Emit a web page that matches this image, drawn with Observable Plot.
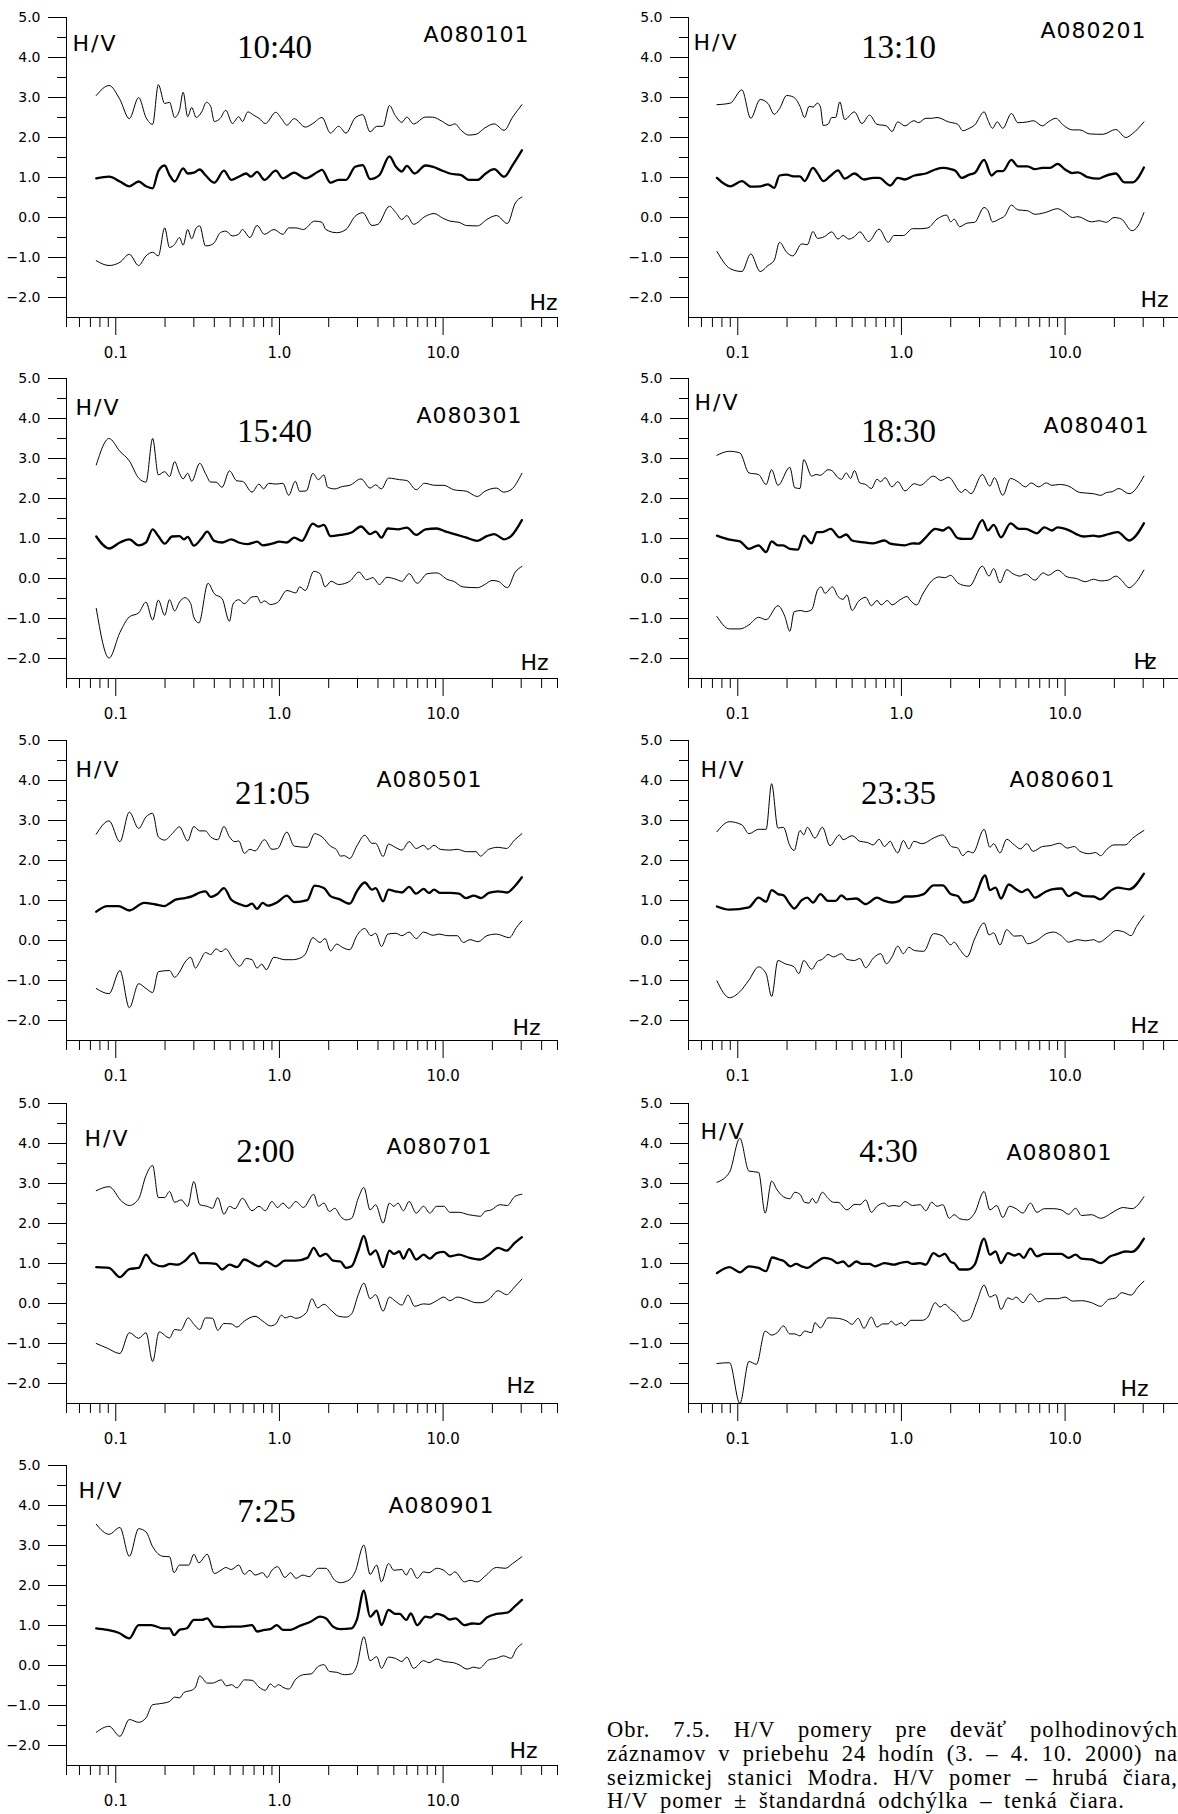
<!DOCTYPE html>
<html><head><meta charset="utf-8">
<script src="https://cdn.jsdelivr.net/npm/d3@7"></script>
<script src="https://cdn.jsdelivr.net/npm/@observablehq/plot@0.6"></script>
<style>
html,body{margin:0;padding:0;background:#fff;overflow:hidden;}
#page{position:relative;width:1178px;height:1814px;overflow:hidden;background:#fff;}
.panel{position:absolute;width:580px;height:365px;}
.panel svg{overflow:visible;max-width:none !important;width:580px !important;height:365px !important;}
#caption{position:absolute;left:607px;top:1718px;width:571px;font-family:"Liberation Serif","Times New Roman",serif;font-size:22.5px;line-height:23.8px;letter-spacing:1px;word-spacing:5px;color:#000;}
#caption div{text-align:justify;text-align-last:justify;white-space:nowrap;height:23.8px;}
#caption div.last{text-align-last:left;}
</style></head>
<body><div id="page"><div id="caption"></div></div>
<script>
// ---------- tick values ----------
const yMajor = [-2, -1, 0, 1, 2, 3, 4, 5];
const yMinor = [-1.5, -0.5, 0.5, 1.5, 2.5, 3.5, 4.5];
const xMajor = [0.1, 1, 10];
const xMinor = [0.05,0.06,0.07,0.08,0.09,0.2,0.3,0.4,0.5,0.6,0.7,0.8,0.9,2,3,4,5,6,7,8,9,20,30,40,50];

// ---------- labels ----------
const ids = ["A080101","A080201","A080301","A080401","A080501","A080601","A080701","A080801","A080901"];
const times = ["10:40","13:10","15:40","18:30","21:05","23:35","2:00","4:30","7:25"];

// ---------- data: [frequency Hz, H/V] ----------
const A080101_up = [[.076,3.05],[.091,3.3],[.106,2.95],[.121,2.47],[.138,3.0],[.153,2.5],[.168,2.33],[.182,3.32],[.199,2.85],[.213,2.88],[.229,2.5],[.245,2.68],[.258,3.13],[.275,2.52],[.291,2.75],[.31,2.5],[.335,2.64],[.358,2.88],[.38,2.78],[.40,2.4],[.435,2.48],[.47,2.68],[.516,2.35],[.564,2.52],[.594,2.4],[.642,2.64],[.695,2.56],[.75,2.48],[.82,2.35],[.95,2.63],[1.03,2.47],[1.11,2.31],[1.23,2.47],[1.44,2.26],[1.6,2.35],[1.82,2.5],[2.05,2.11],[2.3,2.28],[2.55,2.11],[2.9,2.49],[3.23,2.57],[3.58,2.14],[3.93,2.28],[4.3,2.28],[4.7,2.8],[5.1,2.55],[5.6,2.38],[6.0,2.51],[6.6,2.34],[7.8,2.51],[8.6,2.51],[9.9,2.4],[11.0,2.3],[11.8,2.34],[12.9,2.18],[14.3,2.06],[15.9,2.08],[18.0,2.24],[20.5,2.34],[23.6,2.18],[26.6,2.51],[30.3,2.82]];
const A080101_mid = [[.076,.98],[.091,1.02],[.106,.9],[.121,.78],[.138,.9],[.153,.78],[.168,.73],[.182,1.16],[.199,1.3],[.213,1.06],[.229,.9],[.258,1.23],[.275,1.1],[.30,1.12],[.326,1.2],[.353,1.06],[.40,.87],[.458,1.17],[.508,.94],[.564,1.02],[.626,1.1],[.67,1.02],[.73,1.14],[.81,.94],[.95,1.17],[1.05,.98],[1.23,1.12],[1.44,.98],[1.73,1.15],[1.82,1.19],[2.05,.87],[2.3,.94],[2.55,.94],[2.9,1.27],[3.23,1.31],[3.58,.96],[4.08,1.06],[4.7,1.53],[5.15,1.27],[5.6,1.15],[6.0,1.29],[6.7,1.1],[7.8,1.3],[8.6,1.27],[9.9,1.17],[11.0,1.1],[12.9,1.06],[14.3,.94],[16.2,.94],[18.2,1.1],[20.5,1.21],[23.6,1.02],[26.6,1.31],[30.3,1.68]];
const A080101_low = [[.076,-1.08],[.091,-1.2],[.106,-1.12],[.121,-.92],[.138,-1.2],[.153,-.96],[.168,-.87],[.182,-.96],[.199,-.26],[.213,-.75],[.229,-.67],[.245,-.5],[.258,-.69],[.275,-.3],[.291,-.53],[.31,-.26],[.326,-.21],[.353,-.71],[.38,-.69],[.40,-.63],[.435,-.38],[.47,-.34],[.516,-.46],[.564,-.42],[.594,-.3],[.66,-.5],[.73,-.2],[.81,-.42],[.925,-.3],[1.05,-.42],[1.14,-.26],[1.26,-.26],[1.4,-.3],[1.64,-.09],[1.82,-.12],[1.92,-.3],[2.24,-.38],[2.55,-.3],[2.9,.03],[3.23,.12],[3.68,-.2],[4.0,-.17],[4.7,.28],[5.15,.12],[5.6,-.05],[6.0,.05],[6.6,-.17],[7.8,.03],[8.8,.1],[9.9,-.01],[11.0,-.09],[12.5,-.12],[13.9,-.2],[16.2,-.21],[18.5,-.05],[21.2,.05],[24.7,-.15],[27.6,.36],[30.3,.51]];

const A080201_up = [[.0746,2.82],[.09,2.86],[.106,3.19],[.12,2.48],[.137,2.95],[.153,2.85],[.167,2.58],[.18,2.72],[.199,3.05],[.219,3.01],[.24,2.78],[.256,2.5],[.273,2.78],[.288,2.76],[.307,2.86],[.32,2.76],[.333,2.3],[.356,2.33],[.375,2.5],[.396,2.5],[.42,2.89],[.45,2.45],[.516,2.64],[.574,2.35],[.638,2.56],[.709,2.33],[.81,2.29],[.876,2.15],[.95,2.39],[1.05,2.29],[1.19,2.42],[1.27,2.37],[1.41,2.48],[1.53,2.48],[1.65,2.5],[1.94,2.39],[2.21,2.33],[2.37,2.17],[2.6,2.23],[2.8,2.31],[3.2,2.64],[3.38,2.43],[3.6,2.23],[3.85,2.39],[4.16,2.23],[4.7,2.6],[5.15,2.37],[5.89,2.39],[6.4,2.42],[7.27,2.29],[7.9,2.39],[8.77,2.48],[9.74,2.31],[11.1,2.19],[12.3,2.19],[14.1,2.09],[17.0,2.08],[20.4,2.2],[23.5,2.0],[25.9,2.1],[30.3,2.39]];
const A080201_mid = [[.0746,.99],[.09,.78],[.106,.91],[.12,.77],[.137,.78],[.153,.83],[.167,.74],[.18,1.05],[.199,1.07],[.219,1.03],[.24,1.03],[.256,.91],[.288,1.24],[.307,1.11],[.333,.91],[.366,1.03],[.41,1.18],[.45,.97],[.516,1.1],[.59,.95],[.673,.99],[.73,.99],[.855,.8],[.95,.99],[1.05,.95],[1.2,1.05],[1.41,1.1],[1.61,1.2],[1.79,1.24],[2.0,1.21],[2.15,1.16],[2.33,.99],[2.6,1.07],[2.8,1.11],[3.2,1.44],[3.55,1.05],[3.85,1.16],[4.16,1.16],[4.7,1.44],[5.15,1.28],[5.89,1.28],[6.54,1.21],[7.27,1.24],[8.09,1.24],[9.0,1.34],[10.0,1.2],[11.1,1.11],[12.0,1.13],[13.7,1.01],[16.1,.97],[17.4,1.03],[20.4,1.1],[23.0,.88],[25.9,.88],[30.3,1.25]];
const A080201_low = [[.0746,-.85],[.09,-1.28],[.106,-1.35],[.12,-.91],[.137,-1.35],[.153,-1.2],[.167,-1.07],[.18,-.62],[.199,-.87],[.217,-.96],[.246,-.66],[.266,-.68],[.288,-.35],[.307,-.52],[.338,-.48],[.375,-.36],[.41,-.54],[.44,-.45],[.477,-.54],[.516,-.48],[.557,-.36],[.63,-.6],[.73,-.29],[.831,-.62],[.9,-.45],[1.027,-.45],[1.17,-.28],[1.3,-.28],[1.45,-.26],[1.65,-.04],[1.89,.06],[2.0,-.11],[2.1,-.04],[2.27,-.23],[2.52,-.14],[2.8,-.12],[3.2,.25],[3.38,.17],[3.6,-.11],[3.96,-.04],[4.28,.04],[4.7,.31],[5.15,.19],[5.89,.17],[6.54,.08],[7.5,.12],[9.0,.22],[10.0,.12],[11.1,0],[12.0,.02],[14.5,-.11],[16.1,-.08],[17.9,-.12],[19.9,0],[22.1,-.04],[25.6,-.33],[27.9,-.21],[30.3,.12]];

const A080301_up = [[.076,2.84],[.091,3.5],[.106,3.18],[.121,2.94],[.138,2.51],[.153,2.41],[.168,3.5],[.182,2.59],[.199,2.67],[.213,2.55],[.229,2.92],[.245,2.63],[.258,2.49],[.275,2.63],[.291,2.43],[.326,2.88],[.353,2.63],[.38,2.41],[.41,2.41],[.446,2.28],[.495,2.69],[.55,2.44],[.594,2.43],[.68,2.16],[.75,2.36],[.80,2.24],[.86,2.38],[.95,2.36],[1.05,2.38],[1.14,2.08],[1.25,2.43],[1.33,2.18],[1.46,2.19],[1.6,2.63],[1.73,2.47],[1.87,2.59],[1.97,2.28],[2.18,2.24],[2.42,2.3],[2.69,2.33],[3.15,2.49],[3.58,2.26],[3.87,2.34],[4.2,2.24],[4.64,2.51],[5.43,2.47],[6.0,2.45],[6.85,2.22],[7.7,2.38],[8.9,2.33],[10.1,2.33],[11.6,2.22],[13.9,2.18],[16.2,2.05],[18.0,2.18],[21.2,2.26],[23.4,2.16],[26.0,2.22],[30.3,2.63]];
const A080301_mid = [[.076,1.05],[.091,.75],[.106,.9],[.121,.98],[.138,.83],[.153,.9],[.168,1.23],[.182,1.06],[.199,.87],[.221,1.05],[.245,1.06],[.261,.98],[.275,1.04],[.30,.82],[.335,1.01],[.362,1.17],[.40,.94],[.446,.9],[.508,.98],[.564,.9],[.64,.86],[.73,.92],[.79,.83],[.90,.87],[1.0,.92],[1.11,.9],[1.23,1.02],[1.37,.94],[1.6,1.37],[1.73,1.3],[1.87,1.34],[2.05,1.06],[2.36,1.09],[2.76,1.15],[3.15,1.3],[3.58,1.11],[3.87,1.17],[4.2,1.02],[4.6,1.25],[5.3,1.23],[6.0,1.27],[6.85,1.09],[7.8,1.23],[9.13,1.25],[10.4,1.17],[12.2,1.09],[13.9,1.02],[16.2,.94],[18.5,1.06],[20.5,1.11],[23.6,.98],[26.0,1.06],[30.3,1.46]];
const A080301_low = [[.076,-.75],[.091,-1.99],[.106,-1.35],[.121,-.96],[.138,-.86],[.153,-.59],[.168,-1.04],[.182,-.54],[.199,-.92],[.213,-.53],[.229,-.81],[.245,-.59],[.265,-.48],[.287,-.63],[.30,-.97],[.322,-1.11],[.366,-.12],[.40,-.38],[.446,-.5],[.495,-1.07],[.52,-.64],[.564,-.53],[.61,-.63],[.68,-.46],[.73,-.45],[.77,-.61],[.81,-.56],[.88,-.65],[.974,-.6],[1.11,-.3],[1.26,-.36],[1.33,-.21],[1.44,-.3],[1.62,.18],[1.77,.12],[1.9,-.21],[2.07,-.07],[2.3,-.15],[2.69,-.07],[3.06,.16],[3.4,-.03],[3.73,.02],[4.08,-.15],[4.53,.03],[5.15,-.02],[5.6,-.07],[6.2,.12],[6.95,-.12],[8.0,.12],[9.13,.14],[10.7,-.03],[11.6,-.07],[13.2,-.21],[16.2,-.23],[18.0,-.15],[19.9,-.05],[21.7,-.07],[24.7,-.23],[27.6,.16],[30.3,.3]];

const A080401_up = [[.0746,3.08],[.089,3.18],[.103,3.14],[.117,2.64],[.134,2.6],[.149,2.35],[.161,2.72],[.176,2.33],[.208,2.78],[.223,2.27],[.24,2.25],[.253,2.97],[.283,2.56],[.301,2.6],[.32,2.58],[.356,2.72],[.375,2.7],[.41,2.52],[.43,2.48],[.46,2.64],[.489,2.5],[.516,2.7],[.557,2.39],[.605,2.35],[.655,2.25],[.709,2.48],[.747,2.42],[.795,2.52],[.876,2.29],[.95,2.42],[1.05,2.19],[1.2,2.37],[1.3,2.33],[1.57,2.56],[1.74,2.45],[1.94,2.53],[2.33,2.15],[2.45,2.23],[2.66,2.12],[3.12,2.6],[3.47,2.31],[3.7,2.52],[4.16,2.08],[4.64,2.5],[5.15,2.42],[5.72,2.29],[6.21,2.39],[6.9,2.29],[7.67,2.39],[8.3,2.33],[9.25,2.35],[10.5,2.31],[12.3,2.15],[14.9,2.12],[16.5,2.08],[17.9,2.15],[19.4,2.17],[21.3,2.25],[24.6,2.12],[30.3,2.56]];
const A080401_mid = [[.0746,1.07],[.089,.97],[.103,.93],[.117,.74],[.134,.83],[.149,.66],[.161,.93],[.176,.83],[.189,.83],[.208,.74],[.233,.72],[.253,1.07],[.283,.88],[.304,1.16],[.329,1.16],[.37,1.24],[.418,1.03],[.46,1.1],[.5,.95],[.574,.91],[.673,.88],[.788,.95],[.855,.87],[.924,.85],[1.05,.83],[1.17,.88],[1.27,.87],[1.41,1.03],[1.61,1.24],[1.79,1.2],[1.94,1.28],[2.21,1.01],[2.39,.99],[2.66,.99],[3.12,1.46],[3.38,1.2],[3.66,1.34],[4.06,1.03],[4.64,1.38],[5.23,1.24],[5.72,1.24],[6.72,1.13],[7.47,1.28],[8.3,1.2],[9.0,1.28],[10.5,1.21],[11.7,1.11],[13.0,1.05],[14.9,1.07],[16.1,1.05],[18.4,1.11],[21.0,1.16],[24.6,.95],[30.3,1.38]];
const A080401_low = [[.0746,-.95],[.089,-1.26],[.103,-1.26],[.117,-1.16],[.134,-.97],[.149,-1.03],[.176,-.68],[.194,-.95],[.208,-1.32],[.221,-.83],[.243,-.8],[.259,-.83],[.283,-.78],[.307,-.29],[.323,-.21],[.341,-.37],[.379,-.21],[.41,-.45],[.44,-.52],[.464,-.41],[.5,-.8],[.544,-.58],[.605,-.47],[.655,-.68],[.709,-.55],[.752,-.66],[.82,-.55],[.876,-.66],[.974,-.54],[1.083,-.45],[1.13,-.54],[1.24,-.66],[1.34,-.41],[1.53,-.06],[1.7,.04],[1.84,.02],[2.0,.08],[2.21,-.11],[2.39,-.17],[2.6,-.19],[3.12,.31],[3.43,.06],[3.66,.25],[4.0,-.11],[4.4,.22],[4.8,.12],[5.29,.06],[5.72,.11],[6.54,-.04],[7.35,.14],[7.9,.08],[9.0,.21],[10.3,.04],[11.7,0],[13.3,-.08],[14.9,-.02],[16.5,-.06],[18.4,-.04],[20.4,.06],[22.1,-.04],[24.6,-.23],[27.3,-.08],[30.3,.21]];

const A080501_up = [[.076,2.66],[.091,2.99],[.106,2.47],[.121,3.21],[.138,2.8],[.153,3.09],[.168,3.18],[.182,2.59],[.199,2.51],[.221,2.67],[.245,2.84],[.275,2.49],[.30,2.85],[.326,2.74],[.353,2.74],[.38,2.59],[.42,2.52],[.458,2.85],[.495,2.59],[.535,2.47],[.564,2.49],[.61,2.18],[.66,2.28],[.71,2.24],[.81,2.52],[.90,2.28],[.974,2.3],[1.11,2.71],[1.23,2.36],[1.48,2.33],[1.64,2.67],[1.82,2.59],[2.05,2.36],[2.24,2.26],[2.36,2.11],[2.49,2.12],[2.69,2.05],[2.97,2.36],[3.32,2.63],[3.68,2.43],[3.87,2.43],[4.3,2.1],[4.64,2.41],[5.1,2.33],[5.6,2.26],[6.2,2.47],[6.85,2.3],[7.6,2.38],[8.1,2.28],[8.8,2.38],[9.6,2.28],[11.0,2.26],[12.2,2.28],[13.9,2.22],[15.9,2.22],[16.9,2.11],[19.0,2.28],[21.7,2.33],[24.4,2.3],[27.3,2.51],[30.3,2.67]];
const A080501_mid = [[.076,.72],[.089,.86],[.104,.86],[.121,.75],[.149,.94],[.175,.9],[.199,.86],[.215,.94],[.232,1.02],[.265,1.06],[.294,1.11],[.326,1.2],[.353,1.23],[.38,1.09],[.42,1.17],[.458,1.31],[.508,1.02],[.58,.9],[.626,.86],[.68,.92],[.73,.79],[.79,.94],[.85,.87],[.974,.96],[1.11,1.12],[1.23,.96],[1.48,1.01],[1.64,1.37],[1.87,1.31],[2.05,1.11],[2.3,1.04],[2.69,.92],[2.97,1.23],[3.32,1.45],[3.68,1.27],[3.87,1.31],[4.3,.98],[4.64,1.27],[5.1,1.23],[5.6,1.2],[6.2,1.34],[6.85,1.17],[7.6,1.29],[8.2,1.19],[8.8,1.27],[9.6,1.19],[11.0,1.19],[12.5,1.17],[13.8,1.06],[15.4,1.12],[17.1,1.06],[19.0,1.19],[21.7,1.23],[24.7,1.2],[27.3,1.35],[30.3,1.58]];
const A080501_low = [[.076,-1.2],[.091,-1.33],[.106,-.75],[.121,-1.68],[.138,-1.08],[.153,-1.2],[.168,-1.3],[.182,-.78],[.213,-.75],[.229,-.92],[.245,-.79],[.265,-.54],[.287,-.42],[.307,-.69],[.326,-.53],[.353,-.3],[.38,-.35],[.41,-.21],[.44,-.28],[.47,-.21],[.52,-.46],[.572,-.64],[.626,-.45],[.68,-.48],[.73,-.69],[.78,-.59],[.83,-.73],[.925,-.42],[1.08,-.48],[1.2,-.48],[1.37,-.42],[1.44,-.34],[1.6,.07],[1.77,-.05],[1.9,.05],[2.05,-.26],[2.24,-.09],[2.42,-.17],[2.69,-.23],[2.97,.12],[3.32,.3],[3.62,.12],[3.87,.18],[4.2,-.15],[4.6,.16],[5.15,.18],[5.6,.12],[6.2,.21],[6.85,.05],[7.6,.21],[8.7,.13],[9.4,.16],[10.7,.12],[12.2,.12],[13.3,-.05],[14.6,.02],[16.4,-.03],[18.5,.12],[21.2,.16],[25.4,.07],[28.0,.32],[30.3,.49]];

const A080601_up = [[.0746,2.72],[.089,2.97],[.106,2.89],[.117,2.67],[.134,2.78],[.149,2.78],[.161,3.92],[.176,2.81],[.19,2.83],[.208,2.37],[.221,2.25],[.24,2.75],[.253,2.64],[.266,2.83],[.296,2.56],[.329,2.83],[.366,2.37],[.418,2.64],[.44,2.52],[.5,2.62],[.557,2.48],[.62,2.45],[.673,2.39],[.73,2.53],[.788,2.35],[.855,2.48],[.9,2.31],[.95,2.19],[1.027,2.5],[1.11,2.29],[1.19,2.48],[1.34,2.42],[1.57,2.56],[1.79,2.64],[2.02,2.35],[2.21,2.31],[2.37,2.12],[2.55,2.23],[2.73,2.19],[3.2,2.78],[3.47,2.33],[3.66,2.42],[4.0,2.19],[4.4,2.53],[4.89,2.39],[5.34,2.29],[5.83,2.42],[6.37,2.23],[7.27,2.35],[8.09,2.37],[9.25,2.43],[10.3,2.31],[11.4,2.35],[12.3,2.23],[14.1,2.17],[15.3,2.2],[16.5,2.12],[17.9,2.27],[19.9,2.39],[23.3,2.39],[25.9,2.56],[30.3,2.75]];
const A080601_mid = [[.0746,.85],[.089,.77],[.117,.83],[.134,1.07],[.149,.97],[.161,1.26],[.176,1.16],[.19,1.13],[.208,.91],[.221,.8],[.246,1.01],[.266,1.07],[.288,.95],[.32,1.16],[.356,.99],[.396,.99],[.43,1.13],[.464,1.03],[.53,1.05],[.605,.91],[.709,1.07],[.788,.99],[.876,.95],[.974,.99],[1.05,1.1],[1.17,1.1],[1.37,1.16],[1.57,1.38],[1.79,1.38],[2.0,1.16],[2.21,1.11],[2.39,.95],[2.73,1.01],[3.25,1.63],[3.47,1.26],[3.76,1.32],[4.06,1.05],[4.52,1.4],[5.02,1.28],[5.44,1.21],[5.89,1.28],[6.54,1.07],[7.47,1.2],[8.3,1.28],[9.48,1.3],[10.5,1.11],[11.6,1.2],[13.0,1.11],[14.9,1.1],[16.5,1.03],[18.9,1.24],[21.0,1.32],[24.6,1.28],[30.3,1.67]];
const A080601_low = [[.0746,-1.01],[.089,-1.43],[.103,-1.28],[.117,-.99],[.134,-.66],[.149,-.83],[.161,-1.4],[.176,-.5],[.194,-.58],[.221,-.66],[.236,-.83],[.253,-.5],[.283,-.72],[.307,-.52],[.329,-.47],[.356,-.35],[.385,-.41],[.43,-.33],[.464,-.47],[.516,-.5],[.557,-.45],[.605,-.68],[.673,-.44],[.747,-.33],[.81,-.58],[.876,-.41],[.95,-.14],[1.027,-.33],[1.11,-.17],[1.2,-.25],[1.37,-.27],[1.57,.17],[1.79,.11],[2.0,-.11],[2.1,-.04],[2.27,-.22],[2.52,-.41],[2.8,.04],[3.2,.44],[3.43,.14],[3.66,.19],[4.0,-.11],[4.4,.27],[4.89,.11],[5.44,.12],[5.89,-.08],[6.72,0],[7.67,.17],[8.53,.21],[9.48,.12],[10.5,-.04],[12.0,.02],[13.3,-.01],[14.9,.02],[16.1,-.04],[18.4,.11],[20.4,.25],[23.0,.21],[25.3,.12],[27.3,.35],[30.3,.62]];

const A080701_up = [[.076,2.82],[.091,2.92],[.109,2.55],[.121,2.45],[.138,2.62],[.153,3.2],[.168,3.45],[.182,2.65],[.199,2.65],[.213,2.8],[.229,2.53],[.251,2.59],[.275,2.43],[.30,3.05],[.326,2.47],[.362,2.43],[.39,2.38],[.42,2.65],[.458,2.23],[.495,2.43],[.535,2.37],[.594,2.63],[.68,2.32],[.75,2.43],[.82,2.32],[.90,2.55],[.974,2.4],[1.05,2.51],[1.14,2.38],[1.26,2.55],[1.4,2.4],[1.62,2.73],[1.73,2.43],[1.87,2.51],[2.02,2.3],[2.18,2.38],[2.36,2.18],[2.55,2.09],[2.76,2.13],[3.03,2.63],[3.28,2.9],[3.58,2.34],[3.87,2.47],[4.3,2.01],[4.7,2.51],[5.0,2.43],[5.3,2.51],[5.72,2.32],[6.2,2.55],[6.85,2.26],[7.6,2.43],[8.3,2.26],[9.13,2.43],[10.1,2.43],[11.0,2.28],[12.5,2.28],[14.3,2.22],[15.4,2.2],[16.9,2.18],[18.0,2.3],[19.7,2.34],[22.2,2.47],[24.7,2.45],[27.3,2.67],[30.3,2.73]];
const A080701_mid = [[.076,.91],[.091,.89],[.106,.66],[.121,.86],[.138,.89],[.153,1.22],[.168,1.01],[.194,.93],[.215,.99],[.239,.97],[.265,1.07],[.30,1.26],[.326,1.01],[.362,1.01],[.41,.99],[.446,.85],[.495,.97],[.55,.91],[.61,1.1],[.68,1.01],[.75,.93],[.83,1.05],[.95,.93],[1.08,1.07],[1.26,1.07],[1.48,1.14],[1.62,1.39],[1.77,1.18],[1.92,1.24],[2.13,1.07],[2.36,1.05],[2.55,.89],[2.76,.93],[3.03,1.32],[3.28,1.69],[3.58,1.22],[3.87,1.33],[4.3,.91],[4.7,1.32],[5.0,1.24],[5.4,1.3],[5.72,1.12],[6.2,1.36],[6.85,1.1],[7.6,1.22],[8.3,1.12],[9.13,1.26],[10.1,1.29],[11.0,1.18],[12.5,1.22],[14.3,1.15],[16.9,1.1],[19.0,1.22],[21.7,1.39],[24.4,1.32],[27.3,1.51],[30.3,1.66]];
const A080701_low = [[.076,-1.0],[.089,-1.12],[.106,-1.25],[.121,-.73],[.138,-.87],[.153,-.73],[.168,-1.45],[.184,-.71],[.213,-.86],[.229,-.65],[.249,-.67],[.277,-.36],[.30,-.52],[.326,-.65],[.353,-.36],[.39,-.37],[.42,-.67],[.458,-.5],[.508,-.51],[.55,-.59],[.61,-.44],[.71,-.32],[.79,-.44],[.88,-.56],[.95,-.51],[1.03,-.29],[1.08,-.36],[1.17,-.32],[1.26,-.37],[1.46,-.23],[1.58,.12],[1.71,-.11],[1.87,-.02],[2.07,-.17],[2.3,-.32],[2.55,-.34],[2.76,-.26],[3.03,.22],[3.28,.51],[3.58,.12],[3.87,.22],[4.3,-.19],[4.7,.16],[5.1,.06],[5.6,-.04],[6.1,.21],[6.7,-.07],[7.6,-.01],[8.2,-.02],[9.13,.07],[10.1,.16],[11.0,.07],[12.2,.16],[13.9,.1],[15.9,.02],[17.1,.02],[19.0,.1],[21.7,.32],[24.4,.22],[27.3,.41],[30.3,.61]];

const A080801_up = [[.0746,3.03],[.089,3.28],[.103,4.13],[.117,3.31],[.134,3.28],[.147,2.26],[.161,3.06],[.174,2.84],[.19,2.67],[.208,2.62],[.223,2.78],[.24,2.73],[.256,2.53],[.273,2.51],[.285,2.63],[.301,2.51],[.329,2.78],[.356,2.63],[.385,2.53],[.41,2.53],[.464,2.34],[.52,2.48],[.557,2.47],[.605,2.59],[.655,2.28],[.709,2.43],[.788,2.51],[.831,2.43],[.9,2.45],[.974,2.43],[1.05,2.55],[1.17,2.45],[1.3,2.47],[1.41,2.32],[1.53,2.53],[1.65,2.43],[1.79,2.47],[1.96,2.13],[2.1,2.22],[2.27,2.12],[2.52,2.09],[2.8,2.26],[3.2,2.8],[3.47,2.34],[3.82,2.45],[4.16,2.15],[4.57,2.43],[5.02,2.37],[5.52,2.26],[6.14,2.51],[6.72,2.28],[7.47,2.37],[8.53,2.37],[9.48,2.34],[10.5,2.23],[11.6,2.38],[12.6,2.2],[14.5,2.22],[16.5,2.13],[18.7,2.23],[19.9,2.3],[22.7,2.4],[25.6,2.37],[30.3,2.67]];
const A080801_mid = [[.0746,.76],[.089,.91],[.103,.78],[.117,.93],[.134,.89],[.149,.81],[.162,1.15],[.179,1.1],[.19,1.07],[.21,.93],[.227,.99],[.246,.93],[.266,.89],[.296,1.01],[.338,1.14],[.375,1.1],[.407,1.01],[.44,1.05],[.477,.93],[.53,1.05],[.574,.99],[.638,.99],[.69,.93],[.788,1.01],[.9,.97],[.974,1.01],[1.083,1.04],[1.17,.99],[1.3,1.01],[1.41,.97],[1.57,1.26],[1.7,1.18],[1.84,1.24],[2.0,1.04],[2.1,1.01],[2.27,.85],[2.55,.85],[2.8,.97],[3.2,1.62],[3.47,1.22],[3.76,1.3],[4.06,1.01],[4.47,1.26],[4.89,1.2],[5.23,1.24],[5.58,1.14],[6.14,1.37],[6.72,1.18],[7.47,1.24],[8.53,1.24],[9.48,1.24],[10.5,1.14],[11.6,1.22],[12.6,1.12],[14.5,1.1],[16.5,1.01],[18.9,1.18],[21.0,1.24],[23.3,1.3],[25.6,1.29],[30.3,1.62]];
const A080801_low = [[.0746,-1.5],[.089,-1.48],[.103,-2.5],[.117,-1.45],[.13,-1.52],[.147,-.69],[.161,-.79],[.174,-.73],[.19,-.56],[.208,-.76],[.223,-.76],[.24,-.81],[.256,-.69],[.283,-.73],[.296,-.48],[.32,-.61],[.356,-.36],[.407,-.37],[.464,-.44],[.5,-.52],[.544,-.37],[.59,-.62],[.655,-.34],[.709,-.59],[.768,-.51],[.831,-.51],[.866,-.44],[.924,-.54],[1.0,-.48],[1.05,-.56],[1.14,-.42],[1.34,-.42],[1.45,-.34],[1.61,.02],[1.72,-.09],[1.84,-.02],[2.0,-.15],[2.13,-.23],[2.39,-.44],[2.6,-.4],[2.88,.02],[3.2,.46],[3.47,.16],[3.76,.22],[4.06,-.15],[4.47,.14],[4.76,.1],[5.02,.16],[5.52,.02],[6.14,.24],[6.9,.04],[7.67,.12],[9.0,.12],[10.0,.16],[11.1,.06],[12.6,.07],[14.5,.02],[16.5,-.07],[18.4,.1],[20.4,.14],[22.1,.27],[25.3,.21],[27.9,.41],[30.3,.56]];

const A080901_up = [[.076,3.53],[.091,3.28],[.106,3.45],[.121,2.73],[.138,3.42],[.153,3.34],[.168,2.97],[.194,2.73],[.213,2.72],[.227,2.32],[.245,2.51],[.279,2.51],[.30,2.78],[.322,2.57],[.362,2.78],[.40,2.3],[.446,2.4],[.47,2.45],[.508,2.4],[.564,2.51],[.61,2.28],[.66,2.38],[.71,2.26],[.79,2.32],[.84,2.2],[.90,2.38],[.974,2.47],[1.08,2.2],[1.17,2.32],[1.26,2.18],[1.39,2.26],[1.52,2.22],[1.73,2.43],[1.92,2.43],[2.18,2.13],[2.36,2.07],[2.69,2.15],[2.9,2.34],[3.28,3.01],[3.58,2.28],[3.93,2.51],[4.2,2.09],[4.64,2.55],[5.0,2.38],[5.6,2.4],[5.95,2.26],[6.35,2.43],[6.95,2.18],[7.6,2.34],[8.2,2.32],[9.13,2.43],[10.1,2.38],[11.0,2.26],[11.8,2.34],[13.5,2.09],[14.6,2.13],[16.2,2.09],[18.0,2.23],[21.2,2.45],[24.0,2.43],[26.6,2.55],[30.3,2.72]];
const A080901_mid = [[.076,.93],[.089,.89],[.104,.82],[.121,.68],[.138,1.01],[.165,1.01],[.194,.93],[.213,.93],[.227,.76],[.245,.89],[.272,.93],[.30,1.14],[.335,1.14],[.362,1.18],[.40,.97],[.446,.96],[.508,.97],[.58,.97],[.68,1.01],[.73,.85],[.81,.89],[.88,.91],[.965,1.01],[1.05,.89],[1.17,.89],[1.33,.99],[1.56,1.1],[1.77,1.22],[1.92,1.18],[2.13,.97],[2.36,.91],[2.76,.93],[2.97,1.14],[3.28,1.87],[3.58,1.22],[3.93,1.37],[4.2,1.01],[4.64,1.39],[5.1,1.29],[5.43,1.29],[5.95,1.14],[6.35,1.3],[6.95,1.01],[7.8,1.22],[8.4,1.2],[9.13,1.29],[10.1,1.24],[11.0,1.15],[11.9,1.18],[13.5,1.01],[15.0,1.05],[16.6,1.04],[18.5,1.2],[21.2,1.29],[24.7,1.32],[27.3,1.47],[30.3,1.64]];
const A080901_low = [[.076,-1.67],[.091,-1.52],[.106,-1.77],[.121,-1.35],[.138,-1.42],[.153,-1.31],[.168,-.98],[.182,-.96],[.213,-.9],[.229,-.79],[.245,-.81],[.262,-.67],[.294,-.61],[.307,-.54],[.326,-.26],[.362,-.44],[.39,-.44],[.44,-.36],[.475,-.51],[.508,-.48],[.55,-.56],[.61,-.36],[.68,-.37],[.75,-.54],[.82,-.62],[.88,-.46],[.935,-.54],[.985,-.48],[1.07,-.56],[1.14,-.59],[1.26,-.34],[1.4,-.23],[1.56,-.21],[1.73,-.02],[1.87,.02],[2.02,-.15],[2.24,-.17],[2.49,-.23],[2.76,-.21],[2.97,-.01],[3.28,.72],[3.58,.12],[3.93,.22],[4.2,-.07],[4.64,.21],[5.1,.18],[5.6,.1],[6.0,.21],[6.6,-.07],[7.6,.12],[8.2,.07],[9.13,.16],[10.1,.1],[11.6,.07],[12.5,.02],[14.0,-.09],[15.4,-.04],[16.6,-.07],[19.0,.14],[21.2,.18],[23.4,.24],[26.0,.18],[28.0,.41],[30.3,.54]];

const captionLines = [
  "Obr. 7.5. H/V pomery pre deväť polhodinových",
  "záznamov v priebehu 24 hodín (3. – 4. 10. 2000) na",
  "seizmickej stanici Modra. H/V pomer – hrubá čiara,",
  "H/V pomer ± štandardná odchýlka – tenká čiara."
];

// ---------- assemble ----------
const series = [
  [A080101_up, A080101_mid, A080101_low],
  [A080201_up, A080201_mid, A080201_low],
  [A080301_up, A080301_mid, A080301_low],
  [A080401_up, A080401_mid, A080401_low],
  [A080501_up, A080501_mid, A080501_low],
  [A080601_up, A080601_mid, A080601_low],
  [A080701_up, A080701_mid, A080701_low],
  [A080801_up, A080801_mid, A080801_low],
  [A080901_up, A080901_mid, A080901_low]
];

// layout (page placement and label offsets, px)
const layout = [
  {left:0,   top:0,    hv:[6,33],  time:[208,40], id:[357,24], hz:[0,292],   hzls:0},
  {left:622, top:0,    hv:[5,32],  time:[210,40], id:[352,20], hz:[-11,289], hzls:0},
  {left:0,   top:361,  hv:[9,36],  time:[208,63], id:[350,44], hz:[-9,291],  hzls:0},
  {left:622, top:361,  hv:[6,31],  time:[210,63], id:[355,54], hz:[-28,290], hzls:-5},
  {left:0,   top:723,  hv:[9,36],  time:[206,63], id:[310,46], hz:[-17,294], hzls:0},
  {left:622, top:723,  hv:[12,36], time:[210,63], id:[321,46], hz:[-21,292], hzls:0},
  {left:0,   top:1086, hv:[18,42], time:[199,58], id:[320,50], hz:[-23,289], hzls:0},
  {left:622, top:1086, hv:[12,35], time:[200,58], id:[318,56], hz:[-31,292], hzls:0},
  {left:0,   top:1448, hv:[12,32], time:[200,56], id:[322,47], hz:[-20,292], hzls:0}
];

const fmt = d3.format(".1f");
const sans = "DejaVu Sans, Verdana, sans-serif";
const page = document.getElementById("page");

series.forEach((s, i) => {
  const L = layout[i];
  const rows = s.map(arr => arr.map(([f, v]) => ({f, v})));
  const svg = Plot.plot({
    width: 580, height: 365,
    marginLeft: 66, marginRight: 23, marginTop: 17, marginBottom: 48,
    style: {fontFamily: sans, fontSize: "14px", color: "#000", background: "transparent", overflow: "visible"},
    x: {type: "log", domain: [0.05, 50], axis: null},
    y: {domain: [-2.5, 5], axis: null},
    marks: [
      Plot.axisY(yMajor, {anchor: "left", tickSize: 18, tickPadding: 8, tickFormat: fmt, label: null, stroke: "#000", fontSize: 14}),
      Plot.axisY(yMinor, {anchor: "left", tickSize: 9, tickFormat: () => "", label: null, stroke: "#000"}),
      Plot.axisX(xMajor, {anchor: "bottom", tickSize: 18, tickPadding: 12, tickFormat: fmt, label: null, stroke: "#000", fontSize: 15}),
      Plot.axisX(xMinor, {anchor: "bottom", tickSize: 10, tickFormat: () => "", label: null, stroke: "#000"}),
      Plot.ruleX([0.05], {stroke: "#000", strokeWidth: 1}),
      Plot.ruleY([-2.5], {stroke: "#000", strokeWidth: 1}),
      Plot.line(rows[0], {x: "f", y: "v", stroke: "#000", strokeWidth: 1, curve: "monotone-x"}),
      Plot.line(rows[2], {x: "f", y: "v", stroke: "#000", strokeWidth: 1, curve: "monotone-x"}),
      Plot.line(rows[1], {x: "f", y: "v", stroke: "#000", strokeWidth: 2.3, curve: "monotone-x", strokeLinejoin: "round"}),
      Plot.text(["H/V"], {text: d => d, frameAnchor: "top-left", dx: L.hv[0], dy: L.hv[1], textAnchor: "start", lineAnchor: "bottom", fontSize: 22, fontFamily: sans, fill: "#000"}),
      Plot.text([times[i]], {text: d => d, frameAnchor: "top-left", dx: L.time[0], dy: L.time[1], textAnchor: "middle", lineAnchor: "bottom", fontSize: 33, fontFamily: "Liberation Serif, Times New Roman, serif", fill: "#000"}),
      Plot.text([ids[i]], {text: d => d, frameAnchor: "top-left", dx: L.id[0], dy: L.id[1], textAnchor: "start", lineAnchor: "bottom", fontSize: 22, fontFamily: sans, fill: "#000"}),
      Plot.text(["Hz"], {text: d => d, frameAnchor: "top-right", dx: L.hz[0], dy: L.hz[1], textAnchor: "end", lineAnchor: "bottom", fontSize: 22, fontFamily: sans, fill: "#000"})
    ]
  });
  svg.querySelectorAll("text").forEach(t => {
    if (t.textContent === "H/V") t.setAttribute("letter-spacing", "2");
    if (t.textContent === ids[i]) t.setAttribute("letter-spacing", "1");
    if (t.textContent === "Hz" && L.hzls) t.setAttribute("letter-spacing", String(L.hzls));
  });
  const div = document.createElement("div");
  div.className = "panel";
  div.style.left = L.left + "px";
  div.style.top = L.top + "px";
  div.appendChild(svg);
  page.appendChild(div);
});

const cap = document.getElementById("caption");
captionLines.forEach((line, i) => {
  const d = document.createElement("div");
  if (i === captionLines.length - 1) d.className = "last";
  d.textContent = line;
  cap.appendChild(d);
});
</script>
</body></html>
